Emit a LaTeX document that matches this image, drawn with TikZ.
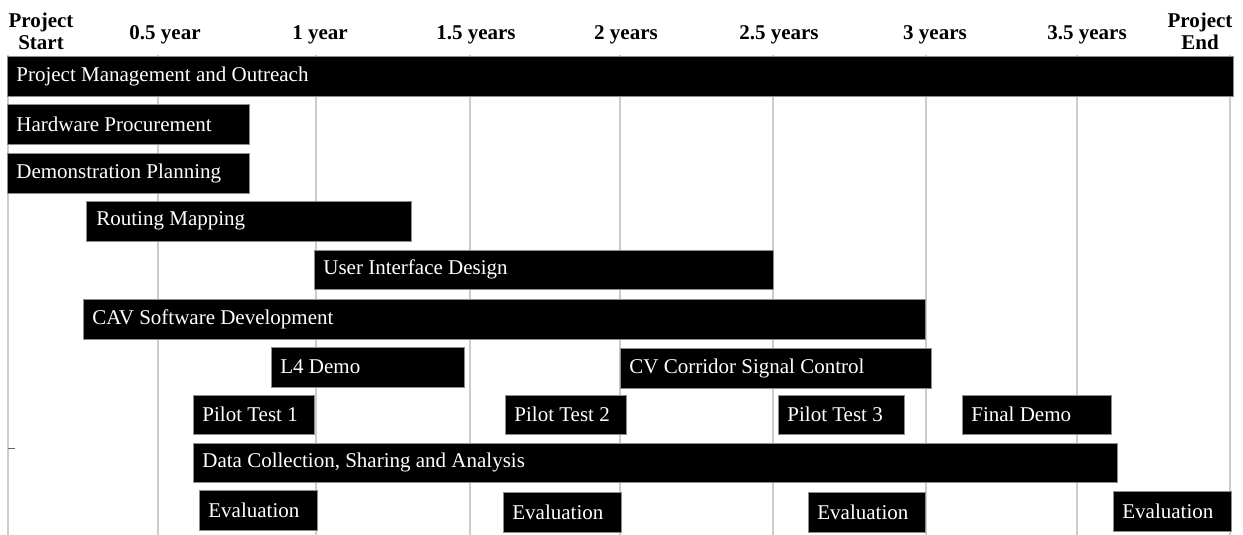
\documentclass[tikz,border=0pt]{standalone}
\usepackage{fontspec}
\setmainfont{Liberation Serif}
\usepackage{tikz}
\usetikzlibrary{positioning}
\definecolor{gridgray}{rgb}{0.80,0.80,0.80}
\definecolor{barblack}{rgb}{0,0,0}

\begin{document}
\begin{tikzpicture}[x=0.5pt, y=-0.5pt,
    task/.style={fill=barblack, draw=black!45, line width=0.4pt},
    tasklabel/.style={anchor=west, text=white, inner sep=0pt, font=\fontsize{10.5}{12}\selectfont},
    header/.style={anchor=base, align=center, inner sep=0pt, font=\fontsize{10.5}{11}\selectfont\bfseries}]
    \useasboundingbox (0,0) rectangle (1243,535);
    % half-year grid
    \foreach \x in {8,158,316,470,620,773,926,1077,1230} { \draw[gridgray, line width=0.7pt] (\x,55) -- (\x,535); }
    \draw[black!60, line width=0.5pt] (8,448) -- (15,448);
    % time axis
    \node[header] (start) at (41,50) {Project\\Start};
    \node[header] (half) at (165,40) {0.5 year};
    \node[header] (one) at (320,40) {1 year};
    \node[header] (onehalf) at (476,40) {1.5 years};
    \node[header] (two) at (626,40) {2 years};
    \node[header] (twohalf) at (779,40) {2.5 years};
    \node[header] (three) at (935,40) {3 years};
    \node[header] (threehalf) at (1087,40) {3.5 years};
    \node[header] (end) at (1200,50) {Project\\End};
    % tasks
    \filldraw[task] (7,56) rectangle (1233,96);
    \node[tasklabel] (mgmt) at (16,76) {Project Management and Outreach};
    \filldraw[task] (7,104) rectangle (249,144);
    \node[tasklabel] (hw) at (16,124) {Hardware Procurement};
    \filldraw[task] (7,153) rectangle (249,193);
    \node[tasklabel] (demoplan) at (16,173) {Demonstration Planning};
    \filldraw[task] (86,201) rectangle (411,241);
    \node[tasklabel] (routing) at (96,221) {Routing Mapping};
    \filldraw[task] (314,250) rectangle (773,289);
    \node[tasklabel] (ui) at (323,269.5) {User Interface Design};
    \filldraw[task] (83,299) rectangle (925,339);
    \node[tasklabel] (cav) at (92,319) {CAV Software Development};
    \filldraw[task] (271,347) rectangle (464,387);
    \node[tasklabel] (lfour) at (280,367) {L4 Demo};
    \filldraw[task] (620,348) rectangle (931,388);
    \node[tasklabel] (cv) at (629,368) {CV Corridor Signal Control};
    % pilots
    \filldraw[task] (193,395) rectangle (314,434);
    \node[tasklabel] (pilotA) at (202,414.5) {Pilot Test 1};
    \filldraw[task] (505,395) rectangle (626,434);
    \node[tasklabel] (pilotB) at (514,414.5) {Pilot Test 2};
    \filldraw[task] (778,395) rectangle (904,434);
    \node[tasklabel] (pilotC) at (787,414.5) {Pilot Test 3};
    \filldraw[task] (962,395) rectangle (1111,434);
    \node[tasklabel] (final) at (971,414.5) {Final Demo};
    \filldraw[task] (193,443) rectangle (1117,482);
    \node[tasklabel] (data) at (202,462.5) {Data Collection, Sharing and Analysis};
    % evaluations
    \filldraw[task] (199,490) rectangle (317,530);
    \node[tasklabel] (evalA) at (208,510) {Evaluation};
    \filldraw[task] (503,492) rectangle (621,532);
    \node[tasklabel] (evalB) at (512,512) {Evaluation};
    \filldraw[task] (808,492) rectangle (925,532);
    \node[tasklabel] (evalC) at (817,512) {Evaluation};
    \filldraw[task] (1113,491) rectangle (1231,531);
    \node[tasklabel] (evalD) at (1122,511) {Evaluation};
\end{tikzpicture}
\end{document}
